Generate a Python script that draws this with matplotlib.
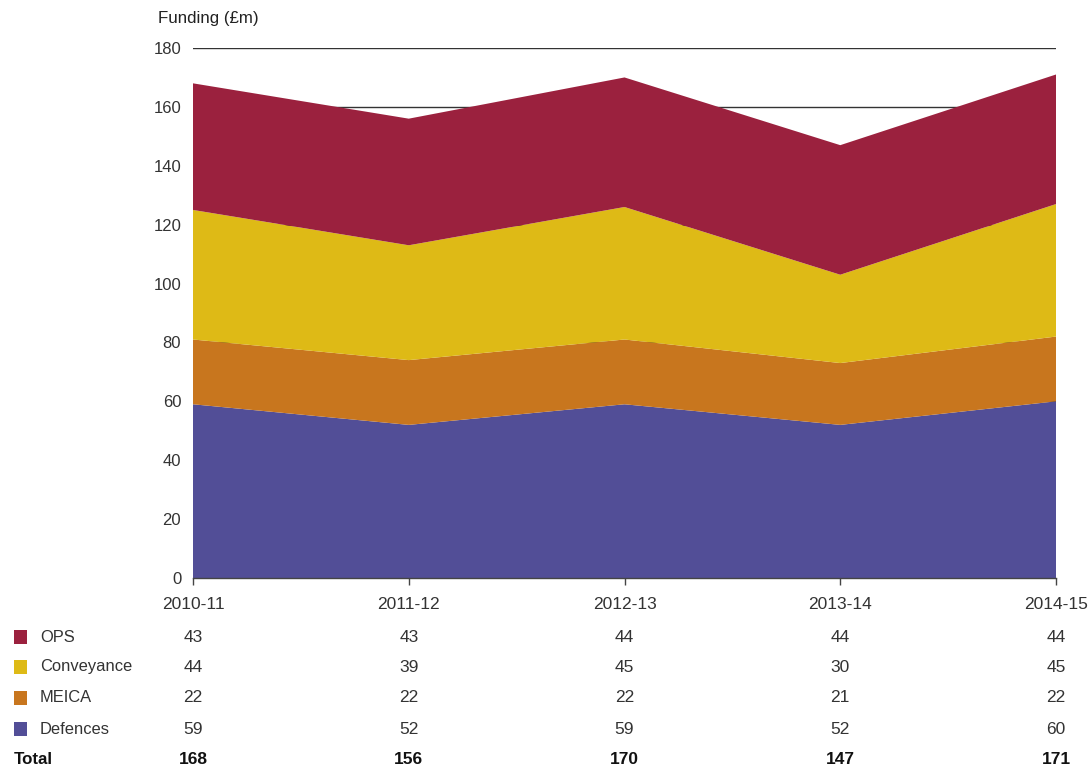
import matplotlib
matplotlib.use("Agg")
import matplotlib.pyplot as plt
import matplotlib.transforms as mtransforms
from matplotlib.patches import Rectangle

plt.rcParams['font.family'] = ['Liberation Sans', 'DejaVu Sans']

years = ["2010-11", "2011-12", "2012-13", "2013-14", "2014-15"]
series_names = ["Defences", "MEICA", "Conveyance", "OPS"]
defences = [59, 52, 59, 52, 60]
meica = [22, 22, 22, 21, 22]
conveyance = [44, 39, 45, 30, 45]
ops = [43, 43, 44, 44, 44]
totals = [168, 156, 170, 147, 171]
colors = ["#524E97", "#C8761E", "#DEBA16", "#9B213E"]
yticks = [0, 20, 40, 60, 80, 100, 120, 140, 160, 180]

fig = plt.figure(figsize=(10.91, 7.68), dpi=100)
ax = fig.add_axes([193/1091, 1 - 578/768, (1056-193)/1091, (578-48)/768])

x = list(range(len(years)))
ax.stackplot(x, defences, meica, conveyance, ops, colors=colors, linewidth=0, zorder=2)

ax.set_xlim(0, len(years) - 1)
ax.set_ylim(0, 180)
ax.set_yticks(yticks)
ax.set_yticklabels([str(v) for v in yticks])
ax.set_xticks(x)
ax.set_xticklabels(years)
ax.yaxis.grid(True, color="#333333", linewidth=1)
ax.set_axisbelow(True)
for s in ["top", "right", "left"]:
    ax.spines[s].set_visible(False)
ax.spines["bottom"].set_color("#444444")
ax.spines["bottom"].set_linewidth(1)
ax.spines["bottom"].set_zorder(3)
ax.tick_params(axis="y", length=0, pad=8.5, labelsize=12, labelcolor="#333333")
ax.tick_params(axis="x", length=5, width=1, color="#444444", direction="out", pad=9, labelsize=12.5, labelcolor="#333333")

fig.text(158/1091, 1 - 18/768, "Funding (£m)", fontsize=12.2, color="#222222", va="center", ha="left")

# data table under the chart
trans = mtransforms.blended_transform_factory(ax.transData, fig.transFigure)
rows = [("OPS", ops, colors[3]), ("Conveyance", conveyance, colors[2]),
        ("MEICA", meica, colors[1]), ("Defences", defences, colors[0])]
row_y = [637, 667, 698, 729]
for (name, vals, col), ypx in zip(rows, row_y):
    yf = 1 - ypx/768
    fig.patches.append(Rectangle((14/1091, yf - 7/768), 13/1091, 14/768,
                                 transform=fig.transFigure, facecolor=col, edgecolor="none"))
    fig.text(40/1091, yf, name, fontsize=11.9, color="#333333", va="center", ha="left")
    for xi, v in zip(x, vals):
        fig.text(xi, yf, str(v), transform=trans, fontsize=12.5, color="#333333", va="center", ha="center")

yf = 1 - 759/768
fig.text(14/1091, yf, "Total", fontsize=12.2, color="#111111", va="center", ha="left", fontweight="bold")
for xi, v in zip(x, totals):
    fig.text(xi, yf, str(v), transform=trans, fontsize=12.5, color="#111111", va="center", ha="center", fontweight="bold")

fig.savefig("out.png", dpi=100)
